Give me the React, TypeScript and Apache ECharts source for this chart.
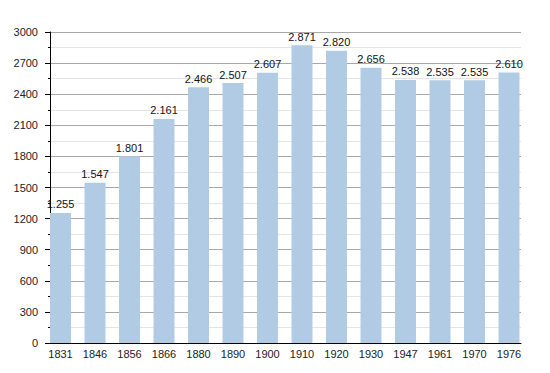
import React, { useEffect, useRef } from "react";
import * as echarts from "echarts";

const years = ["1831", "1846", "1856", "1866", "1880", "1890", "1900", "1910", "1920", "1930", "1947", "1961", "1970", "1976"];
const population = [1255, 1547, 1801, 2161, 2466, 2507, 2607, 2871, 2820, 2656, 2538, 2535, 2535, 2610];
const yMin = 0;
const yMax = 3000;
const yStep = 300;

const fmt = (v: number) => {
  const s = String(Math.round(v));
  return s.replace(/\B(?=(\d{3})+(?!\d))/g, ".");
};

export default function App() {
  const ref = useRef<HTMLDivElement>(null);
  useEffect(() => {
    if (!ref.current) return;
    const chart = echarts.init(ref.current, null, { renderer: "svg" });
    const font = "'Liberation Sans', Arial, Helvetica, sans-serif";
    chart.setOption({
      animation: false,
      backgroundColor: "#ffffff",
      grid: [
        { left: 50, right: 29, top: 32, bottom: 30 },
        { left: 43.25, right: 23.75, top: 32, bottom: 30 },
      ],
      xAxis: [
        {
          gridIndex: 0,
          type: "category",
          data: [""],
          axisLine: { show: true, lineStyle: { color: "#000", width: 1 } },
          axisTick: { show: false },
          axisLabel: { show: false },
          splitLine: { show: false },
        },
        {
          gridIndex: 1,
          type: "category",
          data: years,
          axisLine: { show: false },
          axisTick: { show: false },
          axisLabel: { color: "#222", fontSize: 11, fontFamily: font, margin: 5 },
          splitLine: { show: false },
        },
      ],
      yAxis: [
        {
          gridIndex: 0,
          type: "value",
          min: yMin,
          max: yMax,
          interval: yStep,
          axisLine: { show: true, lineStyle: { color: "#000", width: 1 } },
          axisTick: { show: true, length: 5, lineStyle: { color: "#000" } },
          minorTick: { show: true, splitNumber: 2, length: 2, lineStyle: { color: "#000" } },
          axisLabel: { color: "#222", fontSize: 11, fontFamily: font, margin: 12, formatter: (v: number) => String(v) },
          splitLine: { show: true, lineStyle: { color: "#a8a8a8", width: 1 } },
          minorSplitLine: { show: true, lineStyle: { color: "#e4e4e4", width: 1 } },
        },
        {
          gridIndex: 1,
          type: "value",
          min: yMin,
          max: yMax,
          show: false,
          splitLine: { show: false },
        },
      ],
      series: [
        {
          type: "bar",
          xAxisIndex: 1,
          yAxisIndex: 1,
          data: population,
          barWidth: 21,
          itemStyle: { color: "#b2cbe5" },
          label: {
            show: true,
            position: "top",
            distance: 3,
            color: "#111",
            fontSize: 11,
            fontFamily: font,
            formatter: (p: any) => fmt(p.value),
          },
        },
      ],
    });
    return () => chart.dispose();
  }, []);
  return <div ref={ref} style={{ position: "absolute", left: 0, top: 0, width: 550, height: 373 }} />;
}
